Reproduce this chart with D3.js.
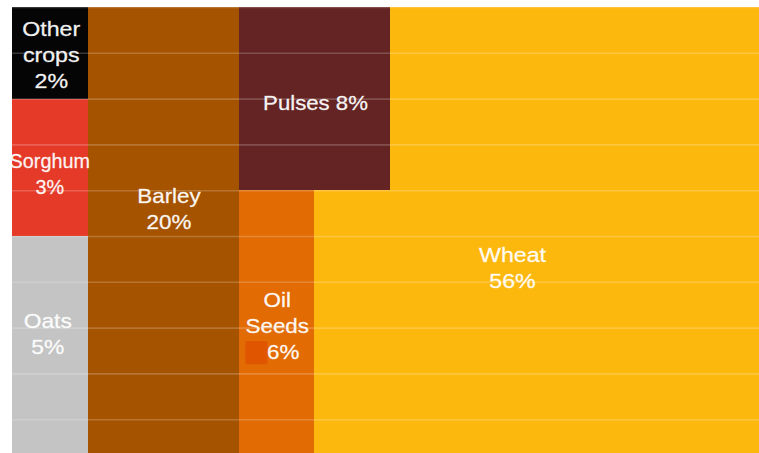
<!DOCTYPE html>
<html>
<head>
<meta charset="utf-8">
<script src="https://cdn.jsdelivr.net/npm/d3@7"></script>
<style>
  html, body { margin: 0; padding: 0; background: #fff; }
  svg { display: block; }
  .lbl { font-family: "Liberation Sans", Arial, Helvetica, sans-serif; font-size: 20px; fill: #fff; fill-opacity: 0.95; stroke: #fff; stroke-opacity: 0.6; stroke-width: 0.45px; }
</style>
</head>
<body>
<svg id="chart" width="759" height="453"></svg>
<script>
// Share of cropped area by crop (%)
const crops  = ["Other crops", "Sorghum", "Oats", "Barley", "Pulses", "Oil Seeds", "Wheat"];
const shares = [2, 3, 5, 20, 8, 6, 56];
// Wheat is laid out as two blocks: beside Pulses and beside Oil Seeds
const wheatBlocks = [20, 36];
// Horizontal guide lines, in % of chart height
const gridTicks = [0, 10, 20, 30, 40, 50, 60, 70, 80, 90];

const palette = {
  "Other crops": "#050505",
  "Sorghum": "#e43a27",
  "Oats": "#c4c4c4",
  "Barley": "#a65300",
  "Pulses": "#632423",
  "Oil Seeds": "#e26b04",
  "Wheat": "#fdb80e"
};

const share = name => shares[crops.indexOf(name)];

// Column of minor crops | Barley | Pulses + Oil Seeds + Wheat
const tree = {
  name: "all",
  children: [
    { name: "minor", children: ["Other crops", "Sorghum", "Oats"].map(n => ({ name: n, value: share(n) })) },
    { name: "Barley", value: share("Barley") },
    { name: "rest", children: [
      { name: "upper", children: [
        { name: "Pulses", value: share("Pulses") },
        { name: "Wheat", value: wheatBlocks[0], part: true }
      ]},
      { name: "lower", children: [
        { name: "Oil Seeds", value: share("Oil Seeds") },
        { name: "Wheat", value: wheatBlocks[1], part: true, labelled: true }
      ]}
    ]}
  ]
};

const root = d3.hierarchy(tree).sum(d => d.value || 0);
d3.treemap().size([100, 100]).tile(d3.treemapSliceDice).paddingInner(0)(root);

const x = d3.scaleLinear().domain([0, 100]).range([12, 767]);
const y = d3.scaleLinear().domain([0, 100]).range([7, 465]);

const svg = d3.select("#chart");
const leaves = root.leaves();

svg.append("g")
  .selectAll("rect")
  .data(leaves)
  .join("rect")
  .attr("x", d => x(d.x0))
  .attr("y", d => y(d.y0))
  .attr("width", d => x(d.x1) - x(d.x0))
  .attr("height", d => y(d.y1) - y(d.y0))
  .attr("fill", d => palette[d.data.name])
  .attr("shape-rendering", "crispEdges");

// Faint horizontal guides over the blocks
const grid = svg.append("g")
  .attr("transform", `translate(${x(0)},0)`)
  .call(d3.axisLeft(y).tickValues(gridTicks).tickSize(-(x(100) - x(0))).tickFormat(""));
grid.select(".domain").remove();
grid.selectAll("line")
  .attr("stroke", "#fff")
  .attr("stroke-opacity", 0.2)
  .attr("stroke-width", 1.6);

// Small swatch inside the Oil Seeds block
const oil = leaves.find(d => d.data.name === "Oil Seeds");
svg.append("rect")
  .attr("x", x(oil.x0) + 7)
  .attr("y", y(oil.y0) + 151)
  .attr("width", 22)
  .attr("height", 23)
  .attr("fill", "#df5500");

// Label text lines and placement relative to each block
const labelSetup = {
  "Other crops": { lines: ["Other", "crops"], dx: 1.5, dy: 29, sx: 1.16 },
  "Sorghum":     { lines: ["Sorghum"],        dx: 0,   dy: 69.5, sx: 0.99 },
  "Oats":        { lines: ["Oats"],           dx: -2,  dy: 92, sx: 1.14 },
  "Barley":      { lines: ["Barley"],         dx: 6,   dy: 196, sx: 1.12 },
  "Pulses":      { lines: [],                 dx: 1.5, dy: 103, sx: 1.11, inline: true },
  "Oil Seeds":   { lines: ["Oil", "Seeds"],   dx: 1,   dy: 117, sx: 1.12, pctDx: 6 },
  "Wheat":       { lines: ["Wheat"],          dx: -28, dy: 72, sx: 1.16 }
};
const lineGap = 26;

const labelled = leaves.filter(d => !d.data.part || d.data.labelled);
const lg = svg.append("g");
labelled.forEach(d => {
  const name = d.data.name;
  const cfg = labelSetup[name];
  const pct = share(name) + "%";
  const lines = cfg.inline ? [name + " " + pct] : cfg.lines.concat([pct]);
  const cx = (x(d.x0) + x(d.x1)) / 2 + cfg.dx;
  const top = y(d.y0) + cfg.dy;
  lines.forEach((t, i) => {
    const isPct = !cfg.inline && i === lines.length - 1;
    const lx = cx + (isPct && cfg.pctDx ? cfg.pctDx : 0);
    lg.append("text")
      .attr("class", "lbl")
      .attr("text-anchor", "middle")
      .attr("transform", `translate(${lx},${top + i * lineGap}) scale(${cfg.sx},1)`)
      .text(t);
  });
});
</script>
</body>
</html>
